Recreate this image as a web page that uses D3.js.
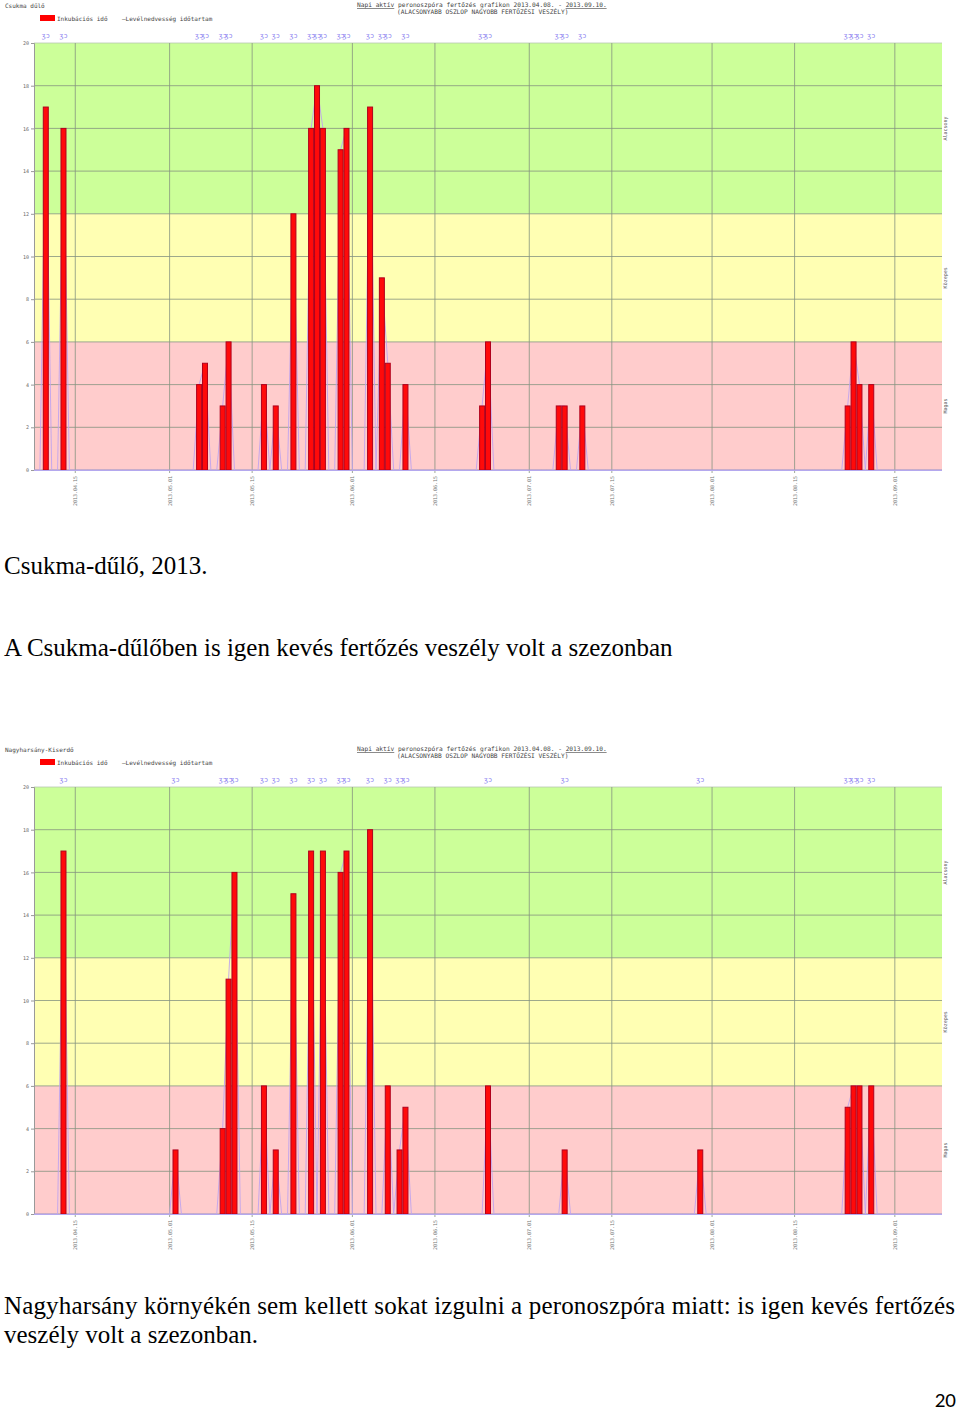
<!DOCTYPE html>
<html>
<head>
<meta charset="utf-8">
<script src="https://cdn.jsdelivr.net/npm/d3@7"></script>
<style>
  body { margin: 0; background: #fff; }
  .mono { font-family: "DejaVu Sans Mono", "Liberation Mono", monospace; }
  .serif { font-family: "Liberation Serif", "Times New Roman", serif; }
</style>
</head>
<body>
<script>
// chart 1: Csukma-dűlő
const dates1 = ["2013-04-10","2013-04-13","2013-05-06","2013-05-07","2013-05-10","2013-05-11",
  "2013-05-17","2013-05-19","2013-05-22","2013-05-25","2013-05-26","2013-05-27","2013-05-30",
  "2013-05-31","2013-06-04","2013-06-06","2013-06-07","2013-06-10","2013-06-23","2013-06-24",
  "2013-07-06","2013-07-07","2013-07-10","2013-08-24","2013-08-25","2013-08-26","2013-08-28"];
const values1 = [17,16,4,5,3,6,4,3,12,16,18,16,15,16,17,9,5,4,3,6,3,3,3,3,6,4,4];

// chart 2: Nagyharsány
const dates2 = ["2013-04-13","2013-05-02","2013-05-10","2013-05-11","2013-05-12","2013-05-17",
  "2013-05-19","2013-05-22","2013-05-25","2013-05-27","2013-05-30","2013-05-31","2013-06-04",
  "2013-06-07","2013-06-09","2013-06-10","2013-06-24","2013-07-07","2013-07-30","2013-08-24",
  "2013-08-25","2013-08-26","2013-08-28"];
const values2 = [17,3,4,11,16,6,3,15,17,17,16,17,18,6,3,5,6,3,3,5,6,6,6];

const dateRange = ["2013-04-08","2013-09-09"];
const xTicks = ["2013-04-15","2013-05-01","2013-05-15","2013-06-01","2013-06-15","2013-07-01",
  "2013-07-15","2013-08-01","2013-08-15","2013-09-01"];
const yTicks = [0,2,4,6,8,10,12,14,16,18,20];
const zoneBounds = [0,6,12,20];
const zoneNames = ["Magas","Közepes","Alacsony"];
const zoneColors = ["#ffcccc","#ffffb3","#ccff99"];

const parse = d3.timeParse("%Y-%m-%d");
const fmt = d3.timeFormat("%Y.%m.%d");

const svg = d3.select("body").append("svg")
  .attr("width", 960).attr("height", 1412);

function drawChart(top, station, dates, values) {
  const g = svg.append("g").attr("transform", `translate(0,${top})`);

  const x = d3.scaleTime().domain(dateRange.map(parse)).range([34, 942]);
  const y = d3.scaleLinear().domain([0, 20]).range([470, 43]);

  // header
  g.append("text").attr("class", "mono").attr("x", 5).attr("y", 8)
    .attr("font-size", 6).attr("fill", "#444").text(station);

  g.append("rect").attr("x", 40).attr("y", 15).attr("width", 15).attr("height", 6).attr("fill", "#ff0000");
  g.append("text").attr("class", "mono").attr("x", 57).attr("y", 21)
    .attr("font-size", 6).attr("fill", "#444").text("Inkubációs idő");
  g.append("text").attr("class", "mono").attr("x", 122).attr("y", 21)
    .attr("font-size", 6).attr("fill", "#444").text("—Levélnedvesség időtartam");

  const t1 = g.append("text").attr("class", "mono").attr("x", 357).attr("y", 7)
    .attr("font-size", 6.2).attr("fill", "#444");
  t1.append("tspan").attr("text-decoration", "underline").text("Napi aktív");
  t1.append("tspan").text(" peronoszpóra fertőzés grafikon 2013.04.08. - ");
  t1.append("tspan").attr("text-decoration", "underline").text("2013.09.10.");
  g.append("text").attr("class", "mono").attr("x", 397).attr("y", 14)
    .attr("font-size", 6.2).attr("fill", "#444").text("(ALACSONYABB OSZLOP NAGYOBB FERTŐZÉSI VESZÉLY)");

  // markers above the plot, one per bar day
  g.selectAll(".mk").data(dates).enter().append("text")
    .attr("class", "mono")
    .attr("x", d => x(parse(d)))
    .attr("y", 38)
    .attr("text-anchor", "middle")
    .attr("font-size", 7)
    .attr("fill", "#8a7ff0")
    .text("ʒɔ");

  // zones
  g.selectAll(".zone").data(zoneColors).enter().append("rect")
    .attr("x", 34).attr("width", 908)
    .attr("y", (c, i) => y(zoneBounds[i + 1]))
    .attr("height", (c, i) => y(zoneBounds[i]) - y(zoneBounds[i + 1]))
    .attr("fill", c => c);

  // grid
  g.selectAll(".hg").data(yTicks).enter().append("line")
    .attr("x1", 34).attr("x2", 942)
    .attr("y1", d => y(d)).attr("y2", d => y(d))
    .attr("stroke", d => d === 20 ? "#b8c8b0" : "#859380").attr("stroke-width", 0.8);
  g.selectAll(".vg").data(xTicks).enter().append("line")
    .attr("x1", d => x(parse(d))).attr("x2", d => x(parse(d)))
    .attr("y1", 43).attr("y2", 473)
    .attr("stroke", "#859380").attr("stroke-width", 0.8);

  // y axis
  g.append("g").attr("transform", "translate(34,0)")
    .call(d3.axisLeft(y).tickValues(yTicks).tickSize(3).tickPadding(2))
    .call(a => a.select(".domain").attr("stroke", "#999"))
    .call(a => a.selectAll(".tick line").attr("stroke", "#999"))
    .call(a => a.selectAll("text").attr("font-size", 5).attr("fill", "#666")
      .attr("font-family", "DejaVu Sans Mono"));

  // zone labels on the right
  g.selectAll(".zl").data(zoneNames).enter().append("text")
    .attr("class", "mono")
    .attr("transform", (d, i) => `translate(947,${(y(zoneBounds[i]) + y(zoneBounds[i + 1])) / 2}) rotate(-90)`)
    .attr("text-anchor", "middle")
    .attr("font-size", 5).attr("fill", "#555")
    .text(d => d);

  // daily line
  const lookup = new Map(dates.map((d, i) => [d, values[i]]));
  const days = d3.timeDay.range(parse(dateRange[0]), d3.timeDay.offset(parse(dateRange[1]), 1));
  const line = d3.line()
    .x(d => x(d))
    .y(d => y(lookup.get(d3.timeFormat("%Y-%m-%d")(d)) || 0));
  g.append("path").datum(days)
    .attr("d", line)
    .attr("fill", "none")
    .attr("stroke", "#c0a4ee")
    .attr("stroke-width", 0.9);

  // bars
  g.selectAll(".bar").data(dates).enter().append("rect")
    .attr("x", d => x(parse(d)) - 2.5)
    .attr("width", 5)
    .attr("y", (d, i) => y(values[i]))
    .attr("height", (d, i) => y(0) - y(values[i]))
    .attr("fill", "#ff0a0a")
    .attr("stroke", "#b0001c")
    .attr("stroke-width", 1);

  // x axis
  g.append("line").attr("x1", 34).attr("x2", 942).attr("y1", 470.5).attr("y2", 470.5)
    .attr("stroke", "#b4a8ee").attr("stroke-width", 1.2);
  g.selectAll(".xl").data(xTicks).enter().append("text")
    .attr("class", "mono")
    .attr("transform", d => `translate(${x(parse(d)) + 2},476) rotate(-90)`)
    .attr("text-anchor", "end")
    .attr("font-size", 5).attr("fill", "#777")
    .text(d => fmt(parse(d)));
}

drawChart(0, "Csukma dűlő", dates1, values1);
drawChart(744, "Nagyharsány-Kiserdő", dates2, values2);

// page text
svg.append("text").attr("class", "serif").attr("x", 4).attr("y", 574)
  .attr("font-size", 25).text("Csukma-dűlő, 2013.");
svg.append("text").attr("class", "serif").attr("x", 4).attr("y", 656)
  .attr("font-size", 25).text("A Csukma-dűlőben is igen kevés fertőzés veszély volt a szezonban");
svg.append("text").attr("class", "serif").attr("x", 4).attr("y", 1314)
  .attr("font-size", 25).attr("textLength", 951).attr("lengthAdjust", "spacing")
  .text("Nagyharsány környékén sem kellett sokat izgulni a peronoszpóra miatt: is igen kevés fertőzés");
svg.append("text").attr("class", "serif").attr("x", 4).attr("y", 1343)
  .attr("font-size", 25).text("veszély volt a szezonban.");
svg.append("text").attr("x", 956).attr("y", 1407).attr("text-anchor", "end")
  .attr("font-family", "Carlito, 'Liberation Sans', sans-serif")
  .attr("font-size", 21).text("20");
</script>
</body>
</html>
